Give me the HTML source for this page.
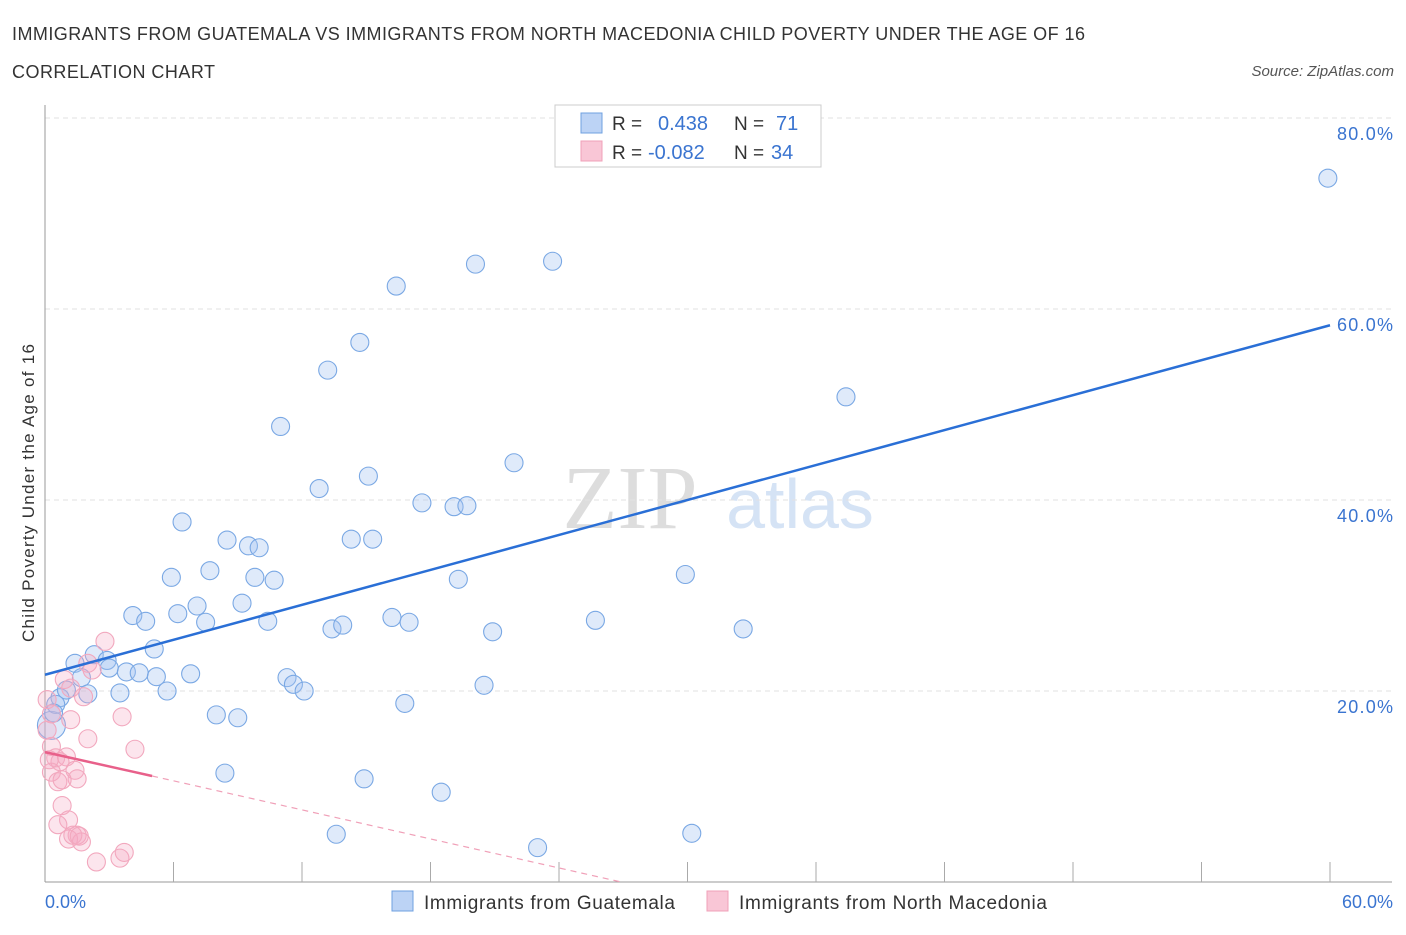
<!DOCTYPE html>
<html><head><meta charset="utf-8"><style>
body{margin:0;background:#fff;font-family:"Liberation Sans",sans-serif}
</style></head><body>
<svg id="c" width="1406" height="930" xmlns="http://www.w3.org/2000/svg" font-family="Liberation Sans, sans-serif">
<text x="12" y="40" font-size="18" fill="#333" textLength="1073">IMMIGRANTS FROM GUATEMALA VS IMMIGRANTS FROM NORTH MACEDONIA CHILD POVERTY UNDER THE AGE OF 16</text>
<text x="12" y="78" font-size="18" fill="#333" textLength="203">CORRELATION CHART</text>
<text x="1394" y="76" font-size="15" fill="#555" font-style="italic" text-anchor="end">Source: ZipAtlas.com</text>
<text x="630" y="528" font-size="90" fill="#ddd" font-family="Liberation Serif, serif" text-anchor="middle">ZIP</text>
<text x="800" y="528" font-size="70" fill="#d5e3f5" text-anchor="middle">atlas</text>
<g id="grid"></g>
<line x1="45" y1="105" x2="45" y2="882" stroke="#999"/>
<line x1="45" y1="882" x2="1392" y2="882" stroke="#999"/>
<g id="ticks"></g>
<text transform="translate(34,493) rotate(-90)" font-size="17" fill="#333" text-anchor="middle" textLength="298">Child Poverty Under the Age of 16</text>
<text x="45" y="908" font-size="18" fill="#3a74d0">0.0%</text>
<text x="1393" y="908" font-size="18" fill="#3a74d0" text-anchor="end">60.0%</text>
<g id="pts"></g>
<g id="lines"></g>
<g>
<rect x="555" y="105" width="266" height="62" fill="#fff" stroke="#ccc"/>
<rect x="581" y="113" width="21" height="20" fill="#bcd3f5" stroke="#6fa0e0"/>
<rect x="581" y="141" width="21" height="20" fill="#f9c6d6" stroke="#f0a0b8"/>
<text x="612" y="130" font-size="19" fill="#333">R =</text><text x="658" y="130" font-size="20" fill="#3a74d0">0.438</text>
<text x="734" y="130" font-size="19" fill="#333">N =</text><text x="776" y="130" font-size="20" fill="#3a74d0">71</text>
<text x="612" y="159" font-size="19" fill="#333">R =</text><text x="648" y="159" font-size="20" fill="#3a74d0">-0.082</text>
<text x="734" y="159" font-size="19" fill="#333">N =</text><text x="771" y="159" font-size="20" fill="#3a74d0">34</text>
</g>
<g>
<rect x="392" y="891" width="21" height="20" fill="#bcd3f5" stroke="#6fa0e0"/>
<text x="424" y="909" font-size="19" fill="#333" textLength="251">Immigrants from Guatemala</text>
<rect x="707" y="891" width="21" height="20" fill="#f9c6d6" stroke="#f0a0b8"/>
<text x="739" y="909" font-size="19" fill="#333" textLength="308">Immigrants from North Macedonia</text>
</g>
</svg>
<script>
const yTicks=[20,40,60,80];
const guatX=[59.9,23.7,20.1,16.4,14.7,13.2,37.4,11.0,21.9,15.1,12.8,17.6,19.1,19.7,6.4,8.5,14.3,15.3,9.5,10.0,7.7,5.9,9.8,10.7,19.3,29.9,9.2,7.1,4.1,6.2,4.7,7.5,10.4,16.2,17.0,25.7,13.4,13.9,20.9,32.6,5.1,2.3,2.9,1.4,3.0,3.8,4.4,5.2,6.8,1.7,11.3,11.6,12.1,20.5,5.7,3.5,2.0,0.7,1.0,16.8,8.0,9.0,0.3,8.4,14.9,18.5,13.6,30.2,23.0,0.5,0.4];
const guatY=[73.7,65.0,64.7,62.4,56.5,53.6,50.8,47.7,43.9,42.5,41.2,39.7,39.3,39.4,37.7,35.8,35.9,35.9,35.2,35.0,32.6,31.9,31.9,31.6,31.7,32.2,29.2,28.9,27.9,28.1,27.3,27.2,27.3,27.7,27.2,27.4,26.5,26.9,26.2,26.5,24.4,23.8,23.2,22.9,22.4,22.0,21.9,21.5,21.8,21.4,21.4,20.7,20.0,20.6,20.0,19.8,19.7,19.3,20.1,18.7,17.5,17.2,16.4,11.4,10.8,9.4,5.0,5.1,3.6,18.6,17.7];
const macX=[2.8,2.0,2.2,0.9,1.2,1.8,0.1,1.2,3.6,0.3,2.0,4.2,0.3,0.5,1.0,0.7,1.4,0.3,1.5,0.6,0.8,0.8,1.1,0.6,1.5,1.1,1.3,1.7,2.4,3.5,3.7,0.1,0.2,1.6];
const macY=[25.2,22.9,22.2,21.2,20.3,19.4,19.1,17.0,17.3,17.6,15.0,13.9,14.2,13.0,13.1,12.6,11.7,11.5,10.8,10.5,10.7,8.0,6.5,6.0,4.9,4.5,4.9,4.2,2.1,2.5,3.1,15.9,12.8,4.8];
const guatTrend=[21.7,58.3];
const macTrend=[13.6,11.1,0];
const macTrendX=[0,5.0,26.9];
const NS='http://www.w3.org/2000/svg';
const X=v=>45+v/60*1285, Y=v=>882-v/20*191;
function mk(t,a,p){const e=document.createElementNS(NS,t);for(const k in a)e.setAttribute(k,a[k]);document.getElementById(p).appendChild(e);return e;}
yTicks.forEach(t=>{
 const l=mk('line',{x1:45,x2:1392,y1:Y(t),y2:Y(t),stroke:'#e2e2e2','stroke-dasharray':'5,4'},'grid');
 
 
 const tx=mk('text',{x:1393,y:Y(t)+22,'font-size':18,fill:'#3a74d0','text-anchor':'end',textLength:56},'grid');
 tx.textContent=t.toFixed(1)+'%';
 
 
});
for(let i=1;i<=10;i++){
 const l=mk('line',{x1:X(i*6),x2:X(i*6),y1:862,y2:882,stroke:'#aaa'},'ticks');
 
 
}
guatX.forEach((v,i)=>{
 const c=mk('circle',{cx:X(v),cy:Y(guatY[i]),r:i==62?14:9,fill:'rgba(164,196,240,0.35)',stroke:'#7aa8e4','stroke-width':1.1},'pts');
 
 
});
macX.forEach((v,i)=>{
 const c=mk('circle',{cx:X(v),cy:Y(macY[i]),r:9,fill:'rgba(245,170,195,0.3)',stroke:'#f2a8be','stroke-width':1.1},'pts');
 
 
});
let l=mk('line',{x1:X(0),y1:Y(guatTrend[0]),x2:X(60),y2:Y(guatTrend[1]),stroke:'#2a6fd6','stroke-width':2.5},'lines');


l=mk('line',{x1:X(macTrendX[0]),y1:Y(macTrend[0]),x2:X(macTrendX[1]),y2:Y(macTrend[1]),stroke:'#e8608a','stroke-width':2.5},'lines');


l=mk('line',{x1:X(macTrendX[1]),y1:Y(macTrend[1]),x2:X(macTrendX[2]),y2:Y(macTrend[2]),stroke:'#f0a0b8','stroke-width':1.2,'stroke-dasharray':'6,5'},'lines');


</script>
</body></html>
